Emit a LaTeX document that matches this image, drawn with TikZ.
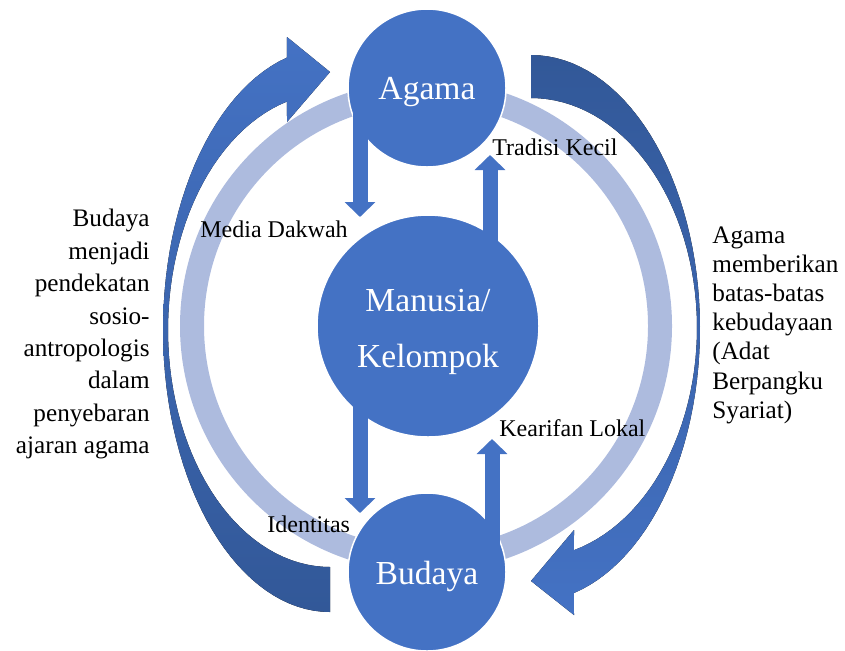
\documentclass[tikz,border=0pt]{standalone}
\usepackage{fontspec}
\setmainfont{Liberation Serif}
\usetikzlibrary{arrows.meta}
\definecolor{acc}{RGB}{68,114,196}
\definecolor{ringc}{RGB}{173,187,222}
\definecolor{darkacc}{RGB}{50,88,152}
\begin{document}
\begin{tikzpicture}[x=0.5pt,y=-0.5pt,
  bigcirc/.style={circle,fill=acc,draw=white,line width=0.75pt,inner sep=0pt},
  ctext/.style={text=white,font=\fontsize{16.8}{28}\selectfont,align=center,inner sep=0pt},
  lbl/.style={font=\fontsize{12}{14}\selectfont,inner sep=0pt,anchor=base west},
  blockarr/.style={draw=acc,line width=7.5pt,-{Triangle[width=15pt,length=7.5pt]}},
  sidetext/.style={inner sep=0pt}
]
\useasboundingbox (0,0) rectangle (845,650);
% light ring
\draw[ringc,line width=12pt] (426,326) circle[radius=234];
% left curved arrow
\fill[top color=acc,middle color=acc!55!darkacc,bottom color=darkacc]
  plot[domain=90:255,samples=60,variable=\t] ({330+167*cos(\t)},{330+282*sin(\t)})
  -- (287,37) -- (330,72) -- (287,122)
  -- plot[domain=254.6:90,samples=60,variable=\t] ({330+162*cos(\t)},{330+237*sin(\t)})
  -- cycle;
% right curved arrow
\fill[top color=darkacc,middle color=acc!55!darkacc,bottom color=acc]
  plot[domain=-90:75.3,samples=60,variable=\t] ({531+169*cos(\t)},{328.5+273.5*sin(\t)})
  -- (574,615) -- (531,581) -- (574,530)
  -- plot[domain=75:-90,samples=60,variable=\t] ({531+166*cos(\t)},{328+230*sin(\t)})
  -- cycle;
% circles
\node[bigcirc,minimum size=79pt] (agama) at (427,88) {};
\node[bigcirc,minimum size=111pt] (manusia) at (428,326) {};
\node[bigcirc,minimum size=79pt] (budaya) at (427,572) {};
\node[ctext] (tagama) at ([yshift=-2pt]agama.center) {Agama};
\node[ctext] (tmanusia) at ([yshift=-3pt]manusia.center) {Manusia/\\Kelompok};
\node[ctext] (tbudaya) at ([yshift=-2pt]budaya.center) {Budaya};
% straight block arrows
\coordinate (t1) at (360,217);
\coordinate (t2) at (490,155);
\coordinate (t3) at (360,513);
\coordinate (t4) at (492,439);
\draw[blockarr] (agama.center -| t1) -- (t1);
\draw[blockarr] ([yshift=30pt]manusia.center -| t2) -- (t2);
\draw[blockarr] ([yshift=-30pt]manusia.center -| t3) -- (t3);
\draw[blockarr] (budaya.center -| t4) -- (t4);
% labels
\node[lbl] (l1) at (492,155) {Tradisi Kecil};
\node[lbl] (l2) at (200,237) {Media Dakwah};
\node[lbl] (l3) at (267,532) {Identitas};
\node[lbl] (l4) at (499,436) {Kearifan Lokal};
% side texts
\node[sidetext,font=\fontsize{12.6}{16.2}\selectfont,align=right,anchor=north east] (lt) at (150,209)
  {Budaya\\menjadi\\pendekatan\\sosio-\\antropologis\\dalam\\penyebaran\\ajaran agama};
\node[sidetext,font=\fontsize{12.6}{14.6}\selectfont,align=left,anchor=north west] (rt) at (712,226)
  {Agama\\memberikan\\batas-batas\\kebudayaan\\(Adat\\Berpangku\\Syariat)};
\end{tikzpicture}
\end{document}
